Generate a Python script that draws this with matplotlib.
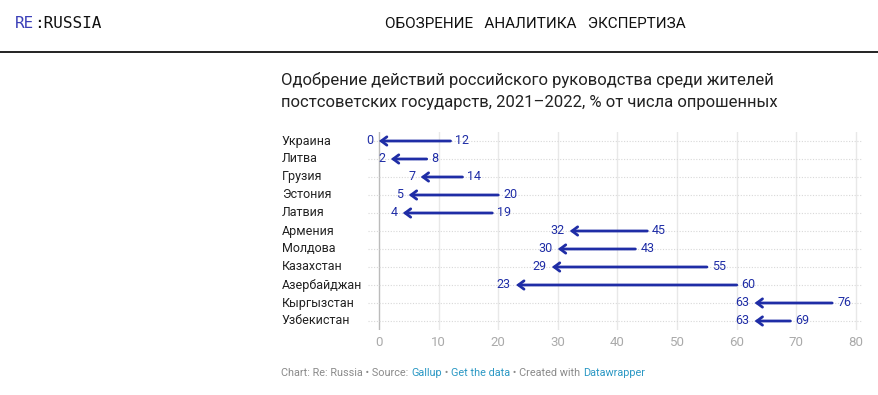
import matplotlib.pyplot as plt

plt.rcParams["font.family"] = ["Roboto", "DejaVu Sans"]

countries = ["Украина", "Литва", "Грузия", "Эстония", "Латвия", "Армения",
             "Молдова", "Казахстан", "Азербайджан", "Кыргызстан", "Узбекистан"]
approval_2021 = [12, 8, 14, 20, 19, 45, 43, 55, 60, 76, 69]
approval_2022 = [0, 2, 7, 5, 4, 32, 30, 29, 23, 63, 63]
xticks = [0, 10, 20, 30, 40, 50, 60, 70, 80]

W, H = 879, 395
BLUE = "#1f2da6"

fig = plt.figure(figsize=(W / 100, H / 100), dpi=100)


def fx(px):
    return px / W


def fy(py):
    return 1 - py / H


# plot area
ax = fig.add_axes([fx(368), fy(330), fx(862) - fx(368), (330 - 132) / H])
px_per_unit = (856 - 379) / 80
ax.set_xlim(-11 / px_per_unit, 80 + 6 / px_per_unit)
ax.set_ylim(len(countries) - 0.5, -0.5)
for s in ax.spines.values():
    s.set_visible(False)
ax.set_xticks(xticks)
ax.set_xticklabels([str(v) for v in xticks], color="#aaaaaa", fontsize=9.5)
ax.tick_params(axis="x", length=0, pad=4)
ax.set_yticks([])
for v in xticks:
    ax.axvline(v, color="#bbbbbb" if v == 0 else "#e8e8e8", lw=1, zorder=0)
for i in range(len(countries)):
    ax.axhline(i, color="#d8d8d8", lw=0.8, ls=(0, (1, 1.5)), zorder=0)

for i, (name, a, b) in enumerate(zip(countries, approval_2021, approval_2022)):
    ax.annotate("", xy=(b, i), xytext=(a, i),
                arrowprops=dict(arrowstyle="->,head_length=0.4,head_width=0.3",
                                color=BLUE, lw=2.0, shrinkA=0, shrinkB=0,
                                joinstyle="miter"))
    ax.annotate(str(b), xy=(b, i), xytext=(-4, 0), textcoords="offset points",
                ha="right", va="center", color=BLUE, fontsize=9)
    ax.annotate(str(a), xy=(a, i), xytext=(3.5, 0), textcoords="offset points",
                ha="left", va="center", color=BLUE, fontsize=9)
    fig.text(fx(282), fy(141 + 18 * i), name, va="center", ha="left",
             fontsize=9, color="#222222")

# header
t = fig.text(fx(15), fy(23), "RE", color="#3b3fb8", fontsize=11.5,
             family="DejaVu Sans Mono", va="center")
ax.annotate(":RUSSIA", xy=(1, 0.5), xycoords=t, va="center", ha="left",
            color="#111111", fontsize=11.5, family="DejaVu Sans Mono",
            annotation_clip=False)
fig.text(fx(535), fy(24), "ОБОЗРЕНИЕ   АНАЛИТИКА   ЭКСПЕРТИЗА",
         ha="center", va="center", fontsize=11,
         family=["Liberation Sans Narrow", "Roboto"], color="#111111")
fig.add_artist(plt.Line2D([0, 1], [fy(52), fy(52)], color="#111111", lw=1.3))

# title
fig.text(fx(281), fy(80), "Одобрение действий российского руководства среди жителей",
         fontsize=12, va="center", color="#222222")
fig.text(fx(281), fy(103), "постсоветских государств, 2021–2022, % от числа опрошенных",
         fontsize=12, va="center", color="#222222")

# footer
parts = [("Chart: Re: Russia • Source: ", "#8a8a8a"), ("Gallup", "#2b98c4"),
         (" • ", "#8a8a8a"), ("Get the data", "#2b98c4"),
         (" • Created with ", "#8a8a8a"), ("Datawrapper", "#2b98c4")]
prev = fig.text(fx(281), fy(373), parts[0][0], color=parts[0][1],
                fontsize=7.8, va="center")
for txt, col in parts[1:]:
    prev = ax.annotate(txt, xy=(1, 0.5), xycoords=prev, va="center",
                       ha="left", color=col, fontsize=7.8,
                       annotation_clip=False)

fig.savefig("out.png", dpi=100, facecolor="white")
